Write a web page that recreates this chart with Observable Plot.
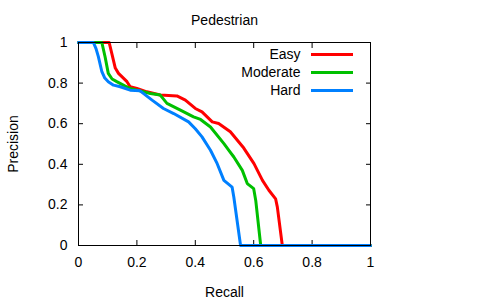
<!DOCTYPE html>
<html>
<head>
<meta charset="utf-8">
<script src="https://cdn.jsdelivr.net/npm/d3@7"></script>
<script src="https://cdn.jsdelivr.net/npm/@observablehq/plot@0.6"></script>
<style>
  html, body { margin: 0; padding: 0; background: #fff; }
</style>
</head>
<body>
<div id="chart"></div>
<script>
const title = "Pedestrian";
const xLabel = "Recall";
const yLabel = "Precision";
const xTicks = [0, 0.2, 0.4, 0.6, 0.8, 1];
const yTicks = [0, 0.2, 0.4, 0.6, 0.8, 1];
const seriesNames = ["Easy", "Moderate", "Hard"];
const seriesColors = ["#ff0000", "#00c000", "#0080ff"];

const easyRecall = [0, 0.105, 0.115, 0.126, 0.137, 0.166, 0.177, 0.2, 0.234, 0.28, 0.337, 0.366, 0.4, 0.423, 0.458, 0.48, 0.52, 0.566, 0.601, 0.63, 0.652, 0.675, 0.681, 0.698, 1];
const easyPrecision = [1, 1, 0.94, 0.874, 0.848, 0.807, 0.782, 0.774, 0.757, 0.741, 0.737, 0.716, 0.675, 0.658, 0.609, 0.601, 0.56, 0.48, 0.403, 0.321, 0.272, 0.23, 0.189, 0, 0];

const moderateRecall = [0, 0.08, 0.091, 0.102, 0.115, 0.131, 0.16, 0.177, 0.246, 0.28, 0.303, 0.349, 0.394, 0.418, 0.452, 0.498, 0.515, 0.532, 0.561, 0.578, 0.6, 0.607, 0.624, 1];
const moderatePrecision = [1, 1, 0.93, 0.848, 0.82, 0.807, 0.785, 0.774, 0.749, 0.741, 0.70, 0.667, 0.634, 0.621, 0.584, 0.502, 0.469, 0.436, 0.37, 0.305, 0.28, 0.222, 0, 0];

const hardRecall = [0, 0.051, 0.06, 0.068, 0.08, 0.09, 0.102, 0.12, 0.143, 0.177, 0.211, 0.252, 0.291, 0.326, 0.377, 0.40, 0.423, 0.452, 0.475, 0.498, 0.526, 0.532, 0.555, 1];
const hardPrecision = [1, 1, 0.97, 0.93, 0.856, 0.825, 0.807, 0.79, 0.782, 0.765, 0.762, 0.716, 0.675, 0.65, 0.609, 0.575, 0.535, 0.469, 0.403, 0.321, 0.288, 0.238, 0, 0];

const recalls = [easyRecall, moderateRecall, hardRecall];
const precisions = [easyPrecision, moderatePrecision, hardPrecision];

const data = seriesNames.flatMap((name, s) =>
  recalls[s].map((r, i) => ({series: name, recall: r, precision: precisions[s][i]}))
);

const font = "'Liberation Sans', Arial, Helvetica, sans-serif";

const legendMarks = seriesNames.flatMap((name, i) => [
  Plot.text([name], {
    text: d => d, frameAnchor: "top-right", textAnchor: "end", lineAnchor: "middle",
    dx: -70, dy: 12 + 18 * i, fontSize: 14, fill: "#000"
  }),
  Plot.ruleY([1], {
    stroke: seriesColors[i], strokeWidth: 3,
    insetLeft: 233, insetRight: 17, dy: 12 + 18 * i
  })
]);

const chart = Plot.plot({
  width: 480,
  height: 303,
  marginLeft: 78,
  marginRight: 110,
  marginTop: 42,
  marginBottom: 58,
  style: {fontFamily: font, fontSize: "14px", background: "#fff", color: "#000"},
  x: {domain: [0, 1]},
  y: {domain: [0, 1]},
  color: {domain: seriesNames, range: seriesColors},
  marks: [
    Plot.axisX({ticks: xTicks, tickSize: -5, tickFormat: () => "", label: null}),
    Plot.axisX({ticks: xTicks, anchor: "top", tickSize: -5, tickFormat: () => "", label: null}),
    Plot.axisY({ticks: yTicks, tickSize: -5, tickFormat: () => "", label: null}),
    Plot.axisY({ticks: yTicks, anchor: "right", tickSize: -5, tickFormat: () => "", label: null}),
    Plot.axisX({ticks: xTicks, tickSize: 0, tickPadding: 12, tickFormat: d => String(d),
      label: xLabel, labelAnchor: "center", labelArrow: "none", labelOffset: 51, fontSize: 14}),
    Plot.axisY({ticks: yTicks, tickSize: 0, tickPadding: 11, tickFormat: d => String(d),
      label: yLabel, labelAnchor: "center", labelArrow: "none", labelOffset: 70, fontSize: 14}),
    Plot.line(data, {x: "recall", y: "precision", z: "series", stroke: "series", strokeWidth: 3, curve: "linear"}),
    Plot.frame({stroke: "#000", strokeWidth: 1}),
    Plot.text([title], {text: d => d, frameAnchor: "top", dy: -27, fontSize: 14, fill: "#000"}),
    ...legendMarks
  ]
});

document.getElementById("chart").appendChild(chart);
</script>
</body>
</html>
